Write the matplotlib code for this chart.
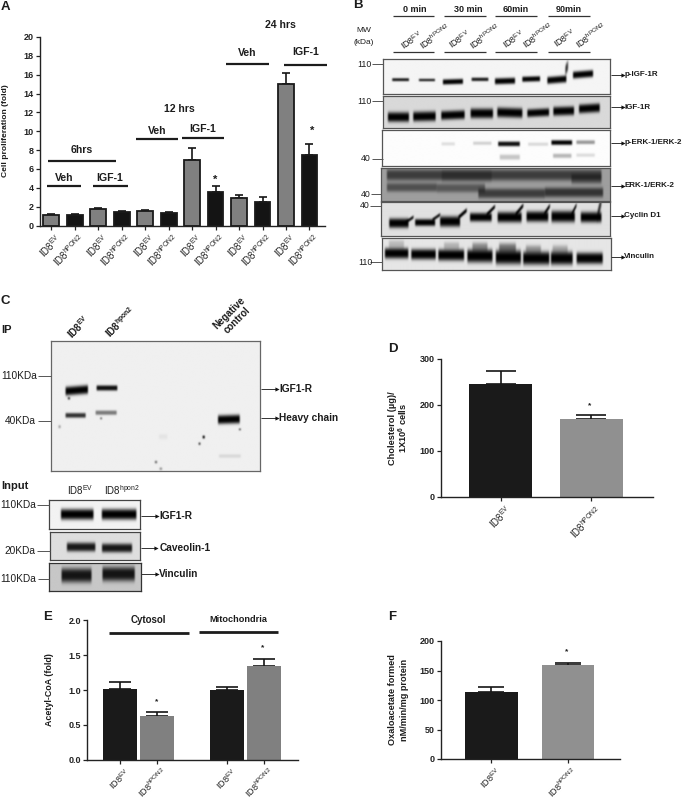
import numpy as np
import matplotlib
matplotlib.use("Agg")
import matplotlib.pyplot as plt
from matplotlib.lines import Line2D
from matplotlib.transforms import ScaledTranslation

plt.rcParams['font.family'] = ['Liberation Sans', 'DejaVu Sans']
plt.rcParams['mathtext.fontset'] = 'custom'
plt.rcParams['mathtext.rm'] = 'Liberation Sans'
plt.rcParams['mathtext.bf'] = 'Liberation Sans:bold'
plt.rcParams['mathtext.default'] = 'regular'

W, H = 685, 800
EV = r"ID8$^{EV}$"
PON = r"ID8$^{hPON2}$"
PONL = r"ID8$^{hpon2}$"

# Panel A
a_labels = [EV, PON] * 6
a_values = [1.1, 1.15, 1.75, 1.4, 1.55, 1.3, 6.9, 3.6, 2.9, 2.5, 15.0, 7.5]
a_errors = [0.08, 0.07, 0.15, 0.1, 0.12, 0.1, 1.3, 0.55, 0.3, 0.5, 1.15, 1.15]
a_yticks = list(range(0, 21, 2))
# Panel D
d_values = [245, 170]
d_errors = [29, 8]
d_yticks = [0, 100, 200, 300]
# Panel E
e_values = [1.02, 0.63, 1.0, 1.34]
e_errors = [0.10, 0.05, 0.05, 0.10]
e_yticks = [0.0, 0.5, 1.0, 1.5, 2.0]
# Panel F
f_values = [113, 159]
f_errors = [9, 4]
f_yticks = [0, 50, 100, 150, 200]

# Western blot bands, in x0, x1, y, height, darkness, slope
blot_pigf = [(140, 190, 240, 7, .9, 0), (220, 268, 241, 6, .85, 0), (292, 352, 246, 12, 1, -.03),
             (378, 428, 239, 8, .9, 0), (448, 508, 244, 14, 1, -.03), (530, 583, 238, 12, 1, -.03),
             (605, 662, 240, 16, 1, -.08), (682, 742, 224, 16, 1, -.08), (659, 667, 205, 24, .8, -2)]
blot_igf = [(127, 190, 353, 22, 1, 0), (203, 270, 351, 22, 1, -.02), (287, 357, 347, 20, 1, -.04),
            (375, 442, 342, 22, 1, 0), (455, 530, 340, 22, 1, .03), (545, 610, 340, 18, 1, -.05),
            (623, 685, 335, 20, 1, -.03), (700, 762, 327, 20, 1, -.06)]
blot_perk = [(290, 330, 432, 8, .12, 0), (385, 440, 430, 8, .17, 0), (460, 525, 432, 11, .95, 0),
             (550, 610, 433, 8, .14, 0), (620, 682, 428, 11, 1, 0), (695, 750, 427, 9, .4, 0),
             (465, 525, 472, 12, .22, 0), (625, 680, 468, 10, .28, 0), (695, 750, 466, 8, .13, 0)]
blot_erk = [(125, 770, 525, 26, .62, 0), (125, 275, 562, 20, .5, 0), (275, 420, 564, 20, .45, 0),
            (400, 600, 580, 22, .62, 0), (600, 775, 577, 22, .68, 0),
            (680, 770, 537, 22, .45, 0), (290, 440, 528, 26, .25, 0)]
blot_cyc = [(132, 190, 670, 22, 1, 0), (210, 270, 668, 16, 1, 0), (285, 345, 665, 24, 1, 0),
            (375, 440, 652, 20, 1, 0), (458, 530, 652, 24, 1, 0), (545, 610, 650, 24, 1, 0),
            (620, 690, 650, 26, 1, 0), (708, 770, 652, 24, 1, 0),
            (180, 205, 660, 8, .9, -.7), (262, 285, 652, 8, .9, -.7), (340, 365, 642, 10, 1, -.9),
            (425, 450, 632, 9, 1, -1), (512, 535, 630, 10, 1, -1.2), (598, 615, 630, 10, 1, -1.5),
            (680, 695, 630, 10, 1, -2), (758, 770, 625, 26, .8, -4)]
blot_vin = [(118, 188, 760, 24, 1, 0), (197, 270, 763, 24, 1, 0), (278, 355, 765, 26, 1, 0),
            (365, 440, 768, 30, 1, 0), (450, 525, 772, 32, 1, 0), (532, 610, 775, 30, 1, 0),
            (615, 680, 775, 30, 1, 0), (692, 770, 775, 26, 1, 0),
            (130, 175, 735, 22, .2, 0), (295, 340, 738, 18, .22, 0), (380, 425, 742, 22, .4, 0),
            (460, 510, 745, 24, .5, 0), (540, 585, 750, 22, .35, 0), (620, 665, 750, 22, .28, 0)]
blot_ip = [(195, 262, 303, 20, 1, -.08), (288, 350, 296, 12, .95, 0), (195, 255, 378, 11, .8, 0),
           (285, 348, 370, 10, .5, 0), (652, 717, 390, 20, 1, -.03),
           (475, 500, 442, 12, .05, 0), (655, 720, 500, 8, .1, 0),
           (606, 612, 443, 7, 1, 0), (594, 599, 463, 6, .8, 0), (463, 469, 518, 6, .6, 0),
           (477, 484, 538, 6, .4, 0), (174, 180, 412, 7, .35, 0), (715, 720, 420, 5, .7, 0),
           (202, 208, 327, 6, .8, 0), (299, 304, 387, 5, .6, 0)]
blot_in1 = [(183, 280, 675, 24, 1, 0), (305, 408, 675, 24, 1, 0)]
blot_in2 = [(200, 285, 773, 20, .9, 0), (305, 395, 776, 20, .9, 0)]
blot_in3 = [(185, 275, 857, 32, .9, 0), (308, 405, 853, 32, .9, 0)]


fig = plt.figure(figsize=(W / 100, H / 100), dpi=100, facecolor='white')


def ax_px(x0, y0, x1, y1, **kw):
    return fig.add_axes([x0 / W, 1 - y1 / H, (x1 - x0) / W, (y1 - y0) / H], **kw)


def txt(x, y, s, size=7, weight='bold', ha='center', va='center', rot=0, color='#1c1c1c', ls=1.1):
    fig.text(x / W, 1 - y / H, s, fontsize=size, fontweight=weight, ha=ha, va=va,
             rotation=rot, color=color, linespacing=ls, rotation_mode='anchor')


def hline(x0, x1, y, lw=1.6, color='#1c1c1c'):
    fig.add_artist(Line2D([x0 / W, x1 / W], [1 - y / H, 1 - y / H], lw=lw, color=color,
                          solid_capstyle='butt'))


def arrow(x0, x1, y):
    hline(x0, x1, y, lw=0.7, color='#333333')
    fig.add_artist(Line2D([x1 / W], [1 - y / H], marker='>', ms=3, color='#111111', lw=0, mew=0))


def smooth(img, n=3, k=5):
    kern = np.ones(k) / k
    pad = k * n
    out = np.pad(img, pad, mode='edge')
    for _ in range(n):
        out = np.apply_along_axis(lambda r: np.convolve(r, kern, mode='same'), 0, out)
        out = np.apply_along_axis(lambda r: np.convolve(r, kern, mode='same'), 1, out)
    return out[pad:-pad, pad:-pad]


def blot(x0, y0, x1, y1, bands, ox, oy, bg=0.03, edge='#555555'):
    """Band list is in 3x zoom coordinates with origin (ox, oy)."""
    ax = ax_px(x0, y0, x1, y1)
    nx, ny = int((x1 - x0) * 2), int((y1 - y0) * 2)
    xs = np.linspace(x0, x1, nx)
    ys = np.linspace(y0, y1, ny)
    X, Y = np.meshgrid(xs, ys)
    X3, Y3 = (X - ox) * 3, (Y - oy) * 3
    clear = np.ones_like(X3)
    for bx0, bx1, by, bh, dark, slope in bands:
        soft = 4.0
        sx = np.clip((X3 - bx0) / soft + .5, 0, 1) * np.clip((bx1 - X3) / soft + .5, 0, 1)
        dy = Y3 - (by + slope * (X3 - (bx0 + bx1) / 2))
        sy = np.exp(-(np.abs(dy) / (bh / 1.5)) ** 3)
        clear *= 1 - dark * sx * sy
    img = (1 - bg) * smooth(clear, n=2, k=3)
    ax.imshow(img, cmap='gray', vmin=0, vmax=1, aspect='auto', interpolation='bilinear')
    ax.set_xticks([]); ax.set_yticks([])
    for s in ax.spines.values():
        s.set_color(edge); s.set_linewidth(0.9)
    return ax


def barpanel(rect, xlim, ylim, pos, vals, errs, cols, width, yticks, labels, yfmt='{}',
             tick=6.5, label=6.9, edge=None, elw=1.2, cap=2.8):
    ax = ax_px(*rect)
    ax.patch.set_alpha(0)
    ax.set_xlim(*xlim); ax.set_ylim(*ylim)
    ax.bar(pos, vals, width=width, color=cols,
           edgecolor=edge if edge else cols, linewidth=1.3 if edge else 0, zorder=2)
    ax.errorbar(pos, vals, yerr=[np.zeros(len(errs)), errs], fmt='none', ecolor='#151515',
                elinewidth=elw, capsize=cap, capthick=elw, zorder=1)
    for s in ('top', 'right'):
        ax.spines[s].set_visible(False)
    for s in ('left', 'bottom'):
        ax.spines[s].set_linewidth(1.0)
        ax.spines[s].set_color('#222222')
    ax.set_yticks(yticks)
    ax.set_yticklabels([yfmt.format(v) for v in yticks], fontsize=tick, fontweight='bold', color='#222222')
    ax.set_xticks(pos)
    ax.set_xticklabels(labels, rotation=45, ha='right', va='top', rotation_mode='anchor',
                       fontsize=label, color='#222222')
    ax.tick_params(axis='both', length=3, width=0.9, color='#222222', pad=1.5)
    ax.tick_params(axis='x', pad=1.5)
    shift = ScaledTranslation(3.5 / 100, 0, fig.dpi_scale_trans)
    for t in ax.get_xticklabels():
        t.set_transform(t.get_transform() + shift)
    return ax


# ------- Panel A
a_pos = np.arange(12)
a_cols = ['#808080', '#141414'] * 6
barpanel((40, 37, 325, 225.5), (-0.47, 11.66), (0, 20), a_pos, a_values, a_errors, a_cols, 0.68,
         a_yticks, a_labels, edge='#1a1a1a')
txt(5.6, 131, 'Cell proliferation (fold)', size=6.1, rot=90)
for x, y, s, sz in [(82, 150, '6hrs', 7.6), (64, 178, 'Veh', 7.6), (110, 178, 'IGF-1', 7.6),
                    (179.3, 108.5, '12 hrs', 7.6), (156.7, 130.5, 'Veh', 7.6), (203, 129, 'IGF-1', 7.6),
                    (280, 25.5, '24 hrs', 7.6), (247.3, 53.5, 'Veh', 7.6), (305.7, 52, 'IGF-1', 7.6),
                    (215.3, 179.5, '*', 8), (311.7, 131, '*', 8)]:
    txt(x, y, s, size=sz)
for x0, x1, y in [(48, 116, 161), (47.3, 81, 186), (93.3, 128.3, 185.7), (135.7, 178.3, 139),
                  (181.7, 224.3, 138), (226, 268.7, 63.7), (284.3, 327, 64.7)]:
    hline(x0, x1, y)

# ------- Panel B
ox, oy = 345, 0
zb = lambda v: ox + v / 3
blot(zb(113), 58.7, zb(795), 94, blot_pigf, ox, oy, bg=.04)
blot(zb(113), 96, zb(795), 128.3, blot_igf, ox, oy, bg=.15)
blot(zb(112), 130.3, zb(795), 166, blot_perk, ox, oy, bg=.01)
blot(zb(108), 168.3, zb(795), 200.7, blot_erk, ox, oy, bg=.38)
blot(zb(108), 202.3, zb(795), 236, blot_cyc, ox, oy, bg=.12)
blot(zb(110), 238, zb(797), 270, blot_vin, ox, oy, bg=.1)
for xz, s in [(210, '0 min'), (370, '30 min'), (513, '60min'), (672, '90min')]:
    txt(zb(xz), 9, s, size=6.5)
for a, b in [(143, 268), (298, 423), (451, 577), (610, 736)]:
    hline(zb(a), zb(b), 15.5, lw=.9, color='#333333')
    hline(zb(a), zb(b), 51.7, lw=.9, color='#333333')
for xz, s, y in [(200, EV, 40), (270, PON, 36.5), (345, EV, 39.5), (420, PON, 36.5),
                 (505, EV, 39.5), (580, PON, 36), (660, EV, 38.5), (740, PON, 36)]:
    txt(zb(xz), y, s, size=6.4, weight='normal', rot=35)
txt(zb(55), 31, 'MW', size=6, weight='normal')
txt(zb(55), 42, '(kDa)', size=6, weight='normal')
for xz, y, s, a, b in [(57, 193, '110', 82, 113), (57, 304, '110', 82, 113), (62, 476, '40', 82, 113),
                       (62, 583, '40', 77, 108), (60, 618, '40', 75, 108), (60, 787, '110', 75, 110)]:
    txt(zb(xz), y / 3, s, size=6.3, weight='normal')
    hline(zb(a), zb(b), y / 3, lw=.7, color='#555555')
for y, s in [(224, 'p-IGF-1R'), (322, 'IGF-1R'), (429, 'p-ERK-1/ERK-2'), (557, 'ERK-1/ERK-2'),
             (647, 'Cyclin D1'), (771, 'Vinculin')]:
    arrow(zb(797), zb(833), y / 3)
    txt(zb(838), y / 3, s, size=5.8, ha='left')

# ------- Panel C
oy = 290
zy = lambda v: oy + v / 3
blot(152 / 3, zy(153), 780 / 3, zy(544), blot_ip, 0, oy, bg=.06, edge='#666666')
blot(148 / 3, zy(630), 421 / 3, zy(718), blot_in1, 0, oy, bg=.05, edge='#444444')
blot(150 / 3, zy(726), 421 / 3, zy(811), blot_in2, 0, oy, bg=.13, edge='#444444')
blot(148 / 3, zy(818), 423 / 3, zy(903), blot_in3, 0, oy, bg=.22, edge='#333333')
txt(6, zy(120), 'IP', size=8)
txt(15, zy(588), 'Input', size=8)
txt(78.5, zy(110), EV, size=7, weight='bold', rot=45)
txt(120, zy(95), PONL, size=7, weight='bold', rot=45)
txt(233, zy(80), 'Negative\ncontrol', size=7, rot=45)
txt(80.5, zy(601), EV, size=7, weight='normal')
txt(122, zy(601), PONL, size=7, weight='normal')
for x, y, s, a, b in [(19, 258, '110KDa', 115, 152), (20, 393, '40KDa', 115, 152),
                      (18.5, 645, '110KDa', 112, 148), (19.5, 782, '20KDa', 110, 150),
                      (18.5, 866, '110KDa', 115, 148)]:
    txt(x, zy(y), s, size=7.3, weight='normal')
    hline(a / 3, b / 3, zy(y), lw=.7, color='#555555')
for a, b, y, xt, s in [(782, 830, 297, 838, 'IGF1-R'), (782, 830, 384, 838, 'Heavy chain'),
                       (422, 470, 678, 478, 'IGF1-R'), (422, 468, 775, 478, 'Caveolin-1'),
                       (422, 472, 852, 476, 'Vinculin')]:
    arrow(a / 3, b / 3, zy(y))
    txt(xt / 3, zy(y), s, size=7.3, ha='left')

# ------- Panel D
barpanel((441, 358.7, 652.7, 497), (-0.664, 1.683), (0, 300), [0, 1], d_values, d_errors,
         ['#1a1a1a', '#909090'], 0.7, d_yticks, [EV, PON], cap=10.8)
txt(392.7, 428, 'Cholesterol (µg)/', size=6.7, rot=90)
txt(403.5, 428, r'1X10$^{6}$ cells', size=6.7, rot=90)
txt(590, 405.5, '*', size=6)

# ------- Panel E
barpanel((87.3, 620.3, 297.7, 759.7), (-0.89, 4.8), (0, 2), [0, 1, 2.9, 3.9], e_values, e_errors,
         ['#1a1a1a', '#808080', '#1a1a1a', '#808080'], 0.92, e_yticks, [EV, PON, EV, PON],
         yfmt='{:.1f}', cap=8, label=6.5)
txt(50, 690, 'Acetyl-CoA (fold)', size=6.4, rot=90)
txt(148.7, 620, 'Cytosol', size=7)
txt(238.3, 619.7, 'Mitochondria', size=6.6)
hline(109.3, 188.7, 632.7, lw=2)
hline(199, 278.3, 632, lw=2)
txt(157, 702, '*', size=6)
txt(262.3, 648, '*', size=6)

# ------- Panel F
barpanel((441, 641, 620, 759), (-0.66, 1.68), (0, 200), [0, 1], f_values, f_errors,
         ['#1a1a1a', '#909090'], 0.69, f_yticks, [EV, PON], cap=9.4, label=6.5)
txt(392.3, 699.5, 'Oxaloacetate formed', size=6.6, rot=90)
txt(404.3, 699.5, 'nM/min/mg protein', size=6.6, rot=90)
txt(567, 652, '*', size=6)

# ------- Panel letters
for x, y, s in [(5, 7, 'A'), (358, 5.5, 'B'), (5, 300.5, 'C'), (392.6, 349.5, 'D'), (48, 616.5, 'E'), (392, 616.5, 'F')]:
    txt(x, y, s, size=9.5)

fig.savefig('out.png', dpi=100, facecolor='white')
